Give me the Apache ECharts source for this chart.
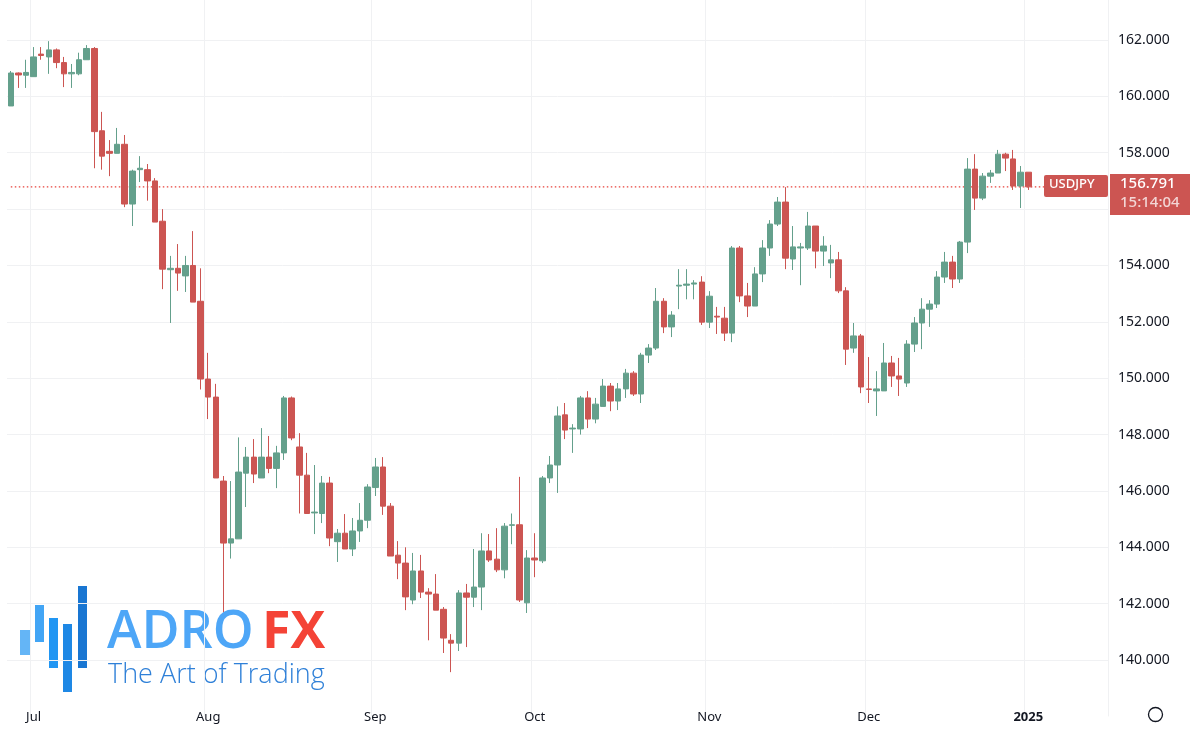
<!DOCTYPE html>
<html>
<head>
<meta charset="utf-8">
<script src="https://cdn.jsdelivr.net/npm/echarts@6/dist/echarts.min.js"></script>
<style>html,body{margin:0;padding:0;background:#fff}#main{width:1190px;height:732px}</style>
</head>
<body>
<div id="main"></div>
<script>
// USDJPY daily candles, 26 Jun 2024 - 1 Jan 2025: [open, close, low, high]
var candles = [
[159.66,160.83,159.66,160.90],[160.83,160.76,160.30,160.85],[160.75,160.85,160.30,161.30],[160.70,161.40,160.70,161.75],
[161.50,161.45,161.30,161.75],[161.40,161.65,160.80,161.96],[161.65,161.20,161.00,161.70],[161.20,160.80,160.33,161.40],
[160.80,160.85,160.30,161.15],[160.80,161.30,160.75,161.55],[161.30,161.70,161.30,161.82],[161.70,158.75,157.45,161.75],
[158.78,157.88,157.40,159.45],[158.05,157.98,157.17,158.45],[157.98,158.30,157.98,158.88],[158.30,156.18,156.07,158.63],
[156.18,157.35,155.40,157.40],[157.40,157.45,156.96,157.88],[157.40,157.00,156.30,157.60],[157.00,155.54,155.54,157.10],
[155.57,153.87,153.16,156.00],[153.85,153.90,151.96,154.34],[153.90,153.73,153.10,154.76],[153.63,154.00,153.06,154.34],
[154.00,152.70,152.70,155.22],[152.73,149.97,149.60,153.90],[149.97,149.33,148.55,150.90],[149.33,146.46,146.46,149.80],
[146.35,144.15,141.70,146.53],[144.15,144.30,143.60,146.35],[144.30,146.67,144.30,147.90],[146.63,147.20,145.43,147.56],
[147.20,146.60,146.28,147.84],[146.46,147.20,146.46,148.23],[147.20,146.80,146.63,147.95],[146.80,147.35,146.10,147.60],
[147.35,149.30,147.10,149.37],[149.30,147.88,147.80,149.35],[147.56,146.56,145.20,148.05],[146.56,145.20,145.20,147.35],
[145.22,145.25,144.47,146.92],[145.20,146.28,144.86,146.53],[146.28,144.33,144.04,146.50],[144.20,144.50,143.48,144.65],
[144.50,143.94,143.94,145.18],[143.94,144.58,143.69,145.04],[144.58,144.96,144.19,145.57],[144.96,146.14,144.68,146.24],
[146.12,146.85,145.82,147.17],[146.85,145.46,145.15,147.20],[145.46,143.69,143.69,145.57],[143.72,143.44,142.87,144.22],
[143.44,142.24,141.77,144.00],[142.13,143.16,141.98,143.80],[143.16,142.41,142.20,143.73],[142.41,142.34,140.70,142.55],
[142.34,141.77,141.77,143.05],[141.80,140.78,140.25,141.88],[140.70,140.60,139.57,140.92],[140.60,142.38,140.32,142.48],
[142.38,142.23,140.46,142.70],[142.23,142.59,141.88,143.94],[142.59,143.87,141.77,144.50],[143.87,143.55,143.48,144.47],
[143.58,143.20,143.12,144.68],[143.20,144.75,142.90,144.86],[144.78,144.80,144.11,145.20],[144.80,142.13,142.06,146.50],
[142.03,143.62,141.67,143.90],[143.62,143.55,142.94,144.50],[143.52,146.46,143.44,146.53],[146.46,146.92,146.28,147.24],
[146.92,148.66,145.93,149.00],[148.70,148.16,147.84,149.12],[148.20,148.23,147.35,148.37],[148.20,149.30,148.00,149.37],
[149.30,148.55,148.23,149.54],[148.55,149.08,148.40,149.30],[149.00,149.72,149.00,149.97],[149.72,149.19,148.83,149.83],
[149.19,149.62,148.87,149.83],[149.62,150.18,149.30,150.33],[150.18,149.44,149.37,150.25],[149.44,150.82,149.12,150.90],
[150.82,151.07,150.54,151.21],[151.07,152.73,151.00,153.20],[152.73,151.82,151.60,152.84],[151.82,152.24,151.46,152.38],
[153.27,153.30,152.45,153.87],[153.30,153.34,152.80,153.87],[153.34,153.38,152.80,153.48],[153.41,151.99,151.89,153.62],
[151.99,152.91,151.78,153.09],[152.20,152.17,151.57,152.53],[152.13,151.60,151.32,152.53],[151.60,154.62,151.28,154.69],
[154.62,152.92,152.70,154.69],[152.92,152.56,152.17,153.38],[152.56,153.70,152.56,153.94],[153.70,154.62,153.41,154.90],
[154.62,155.47,154.34,155.61],[155.47,156.25,155.40,156.43],[156.25,154.26,153.87,156.78],[154.23,154.66,153.84,155.40],
[154.62,154.66,153.30,154.80],[154.62,155.40,154.55,155.90],[155.40,154.51,153.90,155.40],[154.51,154.69,153.98,155.04],
[154.09,154.20,153.55,154.73],[154.20,153.10,153.02,154.48],[153.10,151.03,150.47,153.23],[151.07,151.50,150.90,151.96],
[151.50,149.69,149.47,151.57],[149.62,149.60,149.12,150.75],[149.55,149.62,148.66,150.25],[149.55,150.54,149.55,151.25],
[150.54,150.08,149.69,150.79],[150.08,149.97,149.37,150.72],[149.83,151.21,149.69,151.35],[151.21,151.96,150.93,152.17],
[151.96,152.45,151.03,152.84],[152.45,152.63,151.82,152.77],[152.63,153.59,152.49,153.80],[153.59,154.12,153.38,154.48],
[154.12,153.52,153.20,154.34],[153.52,154.83,153.38,154.87],[154.83,157.42,154.44,157.81],[157.42,156.39,155.97,157.95],
[156.39,157.17,156.32,157.28],[157.17,157.28,156.93,157.39],[157.28,157.95,157.28,158.10],[157.95,157.81,157.35,158.00],
[157.78,156.82,156.68,158.10],[156.82,157.31,156.04,157.53],[157.31,156.79,156.68,157.31]
];
var lastPrice = 156.791;
var countdown = '15:14:04';
var yTicks = [140, 142, 144, 146, 148, 150, 152, 154, 156, 158, 160, 162];
var monthNames = ['Jan','Feb','Mar','Apr','May','Jun','Jul','Aug','Sep','Oct','Nov','Dec'];

// weekday dates (Christmas skipped), plus empty slots for the right margin
var dates = [];
var d = new Date(2024, 5, 26);
while (dates.length < candles.length + 10) {
    var wd = d.getDay();
    if (wd != 0 && wd != 6 && !(d.getMonth() == 11 && d.getDate() == 25)) {
        dates.push(d.getFullYear() + '-' + (d.getMonth() + 1) + '-' + d.getDate());
    }
    d.setDate(d.getDate() + 1);
}
var monthStart = {};
for (var i = 1; i < dates.length; i++) {
    if (dates[i].split('-')[1] != dates[i - 1].split('-')[1]) monthStart[i] = true;
}
var priceLine = dates.map(function () { return lastPrice; });

var up = '#64a08c', down = '#cc5552';
var myChart = echarts.init(document.getElementById('main'));
option = {
    animation: false,
    grid: { left: 7, right: 82, top: 0, bottom: 15.6 },
    xAxis: {
        type: 'category',
        data: dates,
        boundaryGap: true,
        offset: -14,
        axisLine: { show: false },
        axisTick: { show: false },
        axisLabel: {
            interval: function (idx) { return !!monthStart[idx]; },
            color: '#131722', fontSize: 13, fontFamily: 'Noto Sans',
            formatter: function (v) {
                var p = v.split('-');
                if (p[1] == '1') return '{b|' + p[0] + '}';
                return monthNames[p[1] - 1];
            },
            rich: { b: { fontWeight: 'bold', fontSize: 13, color: '#131722', fontFamily: 'Noto Sans' } }
        },
        splitLine: {
            show: true,
            interval: function (idx) { return !!monthStart[idx]; },
            lineStyle: { color: '#f0f1f3' }
        }
    },
    yAxis: {
        type: 'value',
        position: 'right',
        min: 138, max: 163.42, interval: 2,
        axisLine: { show: false },
        axisTick: { show: false },
        axisLabel: {
            showMinLabel: false, showMaxLabel: false, margin: 10,
            color: '#131722', fontSize: 14, fontFamily: 'Noto Sans',
            formatter: function (v) { return yTicks.indexOf(v) >= 0 ? v.toFixed(3) : ''; }
        },
        splitLine: { showMinLine: false, showMaxLine: false, lineStyle: { color: '#f0f1f3' } }
    },
    series: [{
        type: 'line',
        data: priceLine,
        symbol: 'none',
        silent: true,
        z: 1,
        lineStyle: { color: '#e8413b', type: [1.5, 2.5], width: 1.2 }
    }, {
        type: 'candlestick',
        data: candles,
        barWidth: 6,
        z: 3,
        itemStyle: { color: up, color0: down, borderColor: up, borderColor0: down, borderWidth: 1 }
    }],
    graphic: [
        { type: 'rect', z: 100, left: 1044, top: 175, shape: { width: 64, height: 22, r: 2 }, style: { fill: down } },
        { type: 'text', z: 101, left: 1049, top: 178, style: { text: 'USDJPY', fill: '#fff', font: '500 13px "Noto Sans"' } },
        { type: 'rect', z: 100, left: 1110, top: 174, shape: { width: 80, height: 41 }, style: { fill: down } },
        { type: 'text', z: 101, left: 1120, top: 176, style: { text: lastPrice.toFixed(3), fill: '#fff', font: '500 15px "Noto Sans"' } },
        { type: 'text', z: 101, left: 1120, top: 195, style: { text: countdown, fill: '#f3d6d5', font: '500 15px "Noto Sans"' } },
        { type: 'rect', left: 20, top: 630, shape: { width: 10, height: 25 }, style: { fill: '#64b5f6' } },
        { type: 'rect', left: 35, top: 605, shape: { width: 9, height: 37 }, style: { fill: '#42a5f5' } },
        { type: 'rect', left: 49, top: 618, shape: { width: 9, height: 50 }, style: { fill: '#2196f3' } },
        { type: 'rect', left: 63, top: 624, shape: { width: 9, height: 68 }, style: { fill: '#1e88e5' } },
        { type: 'rect', left: 78, top: 586, shape: { width: 9, height: 82 }, style: { fill: '#1976d2' } },
        { type: 'text', left: 107, top: 607, style: { text: 'ADRO', fill: '#4da6f7', font: '600 52px "Open Sans"' } },
        { type: 'text', left: 262, top: 607, style: { text: 'FX', fill: '#f44336', font: 'bold 52px "Open Sans"' } },
        { type: 'text', left: 108, top: 662, style: { text: 'The Art of Trading', fill: '#2f80d8', font: '300 27px "Open Sans"' } },
        { type: 'circle', left: 1146, top: 705, shape: { r: 7 }, style: { fill: 'none', stroke: '#131722', lineWidth: 1.3 } }
    ]
};
myChart.setOption(option);
</script>
</body>
</html>
